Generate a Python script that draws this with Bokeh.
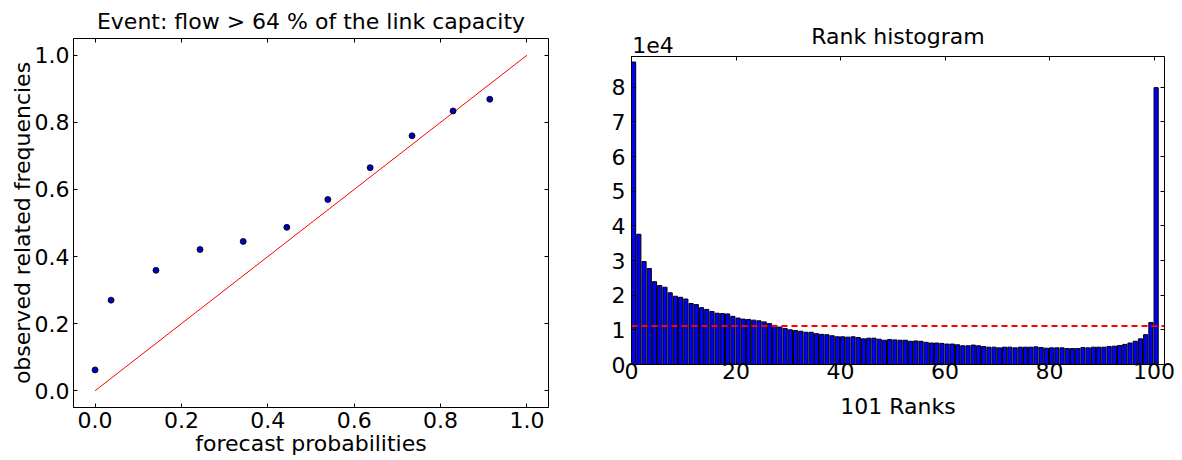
import numpy as np
from bokeh.plotting import figure
from bokeh.layouts import row
from bokeh.models import Range1d, FixedTicker, LinearAxis, Span, PrintfTickFormatter
from bokeh.embed import file_html
from bokeh.resources import INLINE

# ---- data: reliability diagram ----
forecast_prob = [0.0, 0.037, 0.141, 0.243, 0.343, 0.444, 0.539, 0.637, 0.734, 0.829, 0.914]
observed_freq = [0.062, 0.270, 0.359, 0.421, 0.445, 0.487, 0.570, 0.665, 0.760, 0.834, 0.869]
diag_x = [0.0, 1.0]
diag_y = [0.0, 1.0]
prob_ticks = [0.0, 0.2, 0.4, 0.6, 0.8, 1.0]

# ---- data: rank histogram (counts per rank) ----
rank_counts = [
    87300, 37600, 29700, 27700, 23900, 22800, 22300, 20700, 19700, 19400,
    18900, 17600, 17300, 16400, 15900, 15300, 14800, 14700, 14600, 13900,
    13400, 13100, 13000, 12800, 12600, 12300, 11800, 11300, 10800, 10400,
    10000, 9800, 9600, 9300, 9300, 8900, 8700, 8600, 8300, 8000,
    8000, 7900, 8000, 7800, 7400, 7600, 7600, 7300, 7000, 7200,
    7100, 7000, 7000, 6700, 6800, 6700, 6400, 6200, 6200, 6100,
    5900, 5900, 5700, 5400, 5400, 5600, 5400, 5200, 5000, 5000,
    4800, 5000, 5000, 4800, 5000, 5000, 5000, 5100, 4900, 4700,
    4800, 4800, 4800, 4600, 4600, 4600, 4900, 4800, 5000, 5000,
    5000, 5200, 5300, 5500, 5800, 6200, 6700, 7400, 8600, 12100,
    79900,
]
ranks = list(range(len(rank_counts)))
rank_ticks = [0, 20, 40, 60, 80, 100]
count_ticks = [0, 10000, 20000, 30000, 40000, 50000, 60000, 70000, 80000]
count_tick_labels = ["0", "1", "2", "3", "4", "5", "6", "7", "8"]
offset_text = "1e4"

FONT = "DejaVu Sans"
FS = "22px"


def base_axis_style(ax):
    ax.major_tick_in = 4
    ax.major_tick_out = 0
    ax.major_tick_line_color = "black"
    ax.minor_tick_in = 4
    ax.minor_tick_out = 0
    ax.minor_tick_line_color = "black"
    ax.axis_line_color = "black"
    ax.major_label_text_font = FONT
    ax.major_label_text_font_size = FS
    ax.major_label_text_color = "black"
    ax.axis_label_text_font = FONT
    ax.axis_label_text_font_size = FS
    ax.axis_label_text_font_style = "normal"
    ax.axis_label_text_color = "black"


def style(p, xticks, yticks, top_label_ticks=None, top_labels=None):
    p.outline_line_color = "black"
    p.outline_line_width = 1
    p.outline_line_alpha = 1
    p.xgrid.visible = False
    p.ygrid.visible = False
    bx, ly = p.below[0], p.left[0]
    bx.ticker = FixedTicker(ticks=xticks)
    ly.ticker = FixedTicker(ticks=yticks)
    base_axis_style(bx)
    base_axis_style(ly)
    # mirrored tick marks on right and top (tick marks only)
    ry = LinearAxis(ticker=FixedTicker(ticks=[], minor_ticks=yticks))
    major = top_label_ticks if top_label_ticks else []
    tx = LinearAxis(ticker=FixedTicker(ticks=major, minor_ticks=xticks))
    for ax in (ry, tx):
        base_axis_style(ax)
        ax.axis_line_color = None
        ax.major_tick_line_color = None
        ax.major_label_standoff = 0
    if top_labels:
        tx.major_label_overrides = {t: s for t, s in zip(major, top_labels)}
        tx.major_label_standoff = 4
    p.add_layout(ry, "right")
    p.add_layout(tx, "above")
    p.title.text_font = FONT
    p.title.text_font_size = FS
    p.title.text_font_style = "normal"
    p.title.text_color = "black"
    p.title.align = "center"
    return bx, ly


# ---- left figure ----
p1 = figure(width=590, height=460, output_backend="svg", toolbar_location=None,
            x_range=Range1d(-0.05, 1.05), y_range=Range1d(-0.05, 1.05),
            title="Event: flow > 64 % of the link capacity",
            min_border_left=73, min_border_right=42, min_border_top=38, min_border_bottom=53)
p1.frame_align = False
p1.line(diag_x, diag_y, line_color="red", line_width=1)
p1.scatter(forecast_prob, observed_freq, size=6, fill_color="#0000bb",
           line_color="black", line_width=0.8)
bx1, ly1 = style(p1, prob_ticks, prob_ticks)
bx1.axis_label = "forecast probabilities"
ly1.axis_label = "observed related frequencies"
for ax in (bx1, ly1):
    ax.formatter = PrintfTickFormatter(format="%.1f")
ly1.major_label_standoff = 4
ly1.axis_label_standoff = -3
bx1.major_label_standoff = 4
bx1.axis_label_standoff = 0
p1.title.standoff = 9

# ---- right figure ----
p2 = figure(width=590, height=460, output_backend="svg", toolbar_location=None,
            x_range=Range1d(0, 102), y_range=Range1d(0, 88900),
            title="Rank histogram",
            min_border_left=41, min_border_right=16, min_border_top=56, min_border_bottom=96)
p2.frame_align = False
p2.vbar(x=[r + 0.4 for r in ranks], width=0.8, bottom=0, top=rank_counts,
        fill_color="blue", line_color="black", line_width=1)
p2.add_layout(Span(location=float(np.mean(rank_counts)), dimension="width",
                   line_color="red", line_width=2, line_dash="6 4"))
bx2, ly2 = style(p2, rank_ticks, count_ticks, top_label_ticks=[4.1], top_labels=[offset_text])
bx2.axis_label = "101 Ranks"
ly2.major_label_overrides = {t: s for t, s in zip(count_ticks, count_tick_labels)}
ly2.major_label_standoff = 6
bx2.major_label_standoff = -2
bx2.axis_label_standoff = 12
p2.title.standoff = -30

layout = row(p1, p2)
open("out.html", "w").write(file_html(layout, INLINE))
